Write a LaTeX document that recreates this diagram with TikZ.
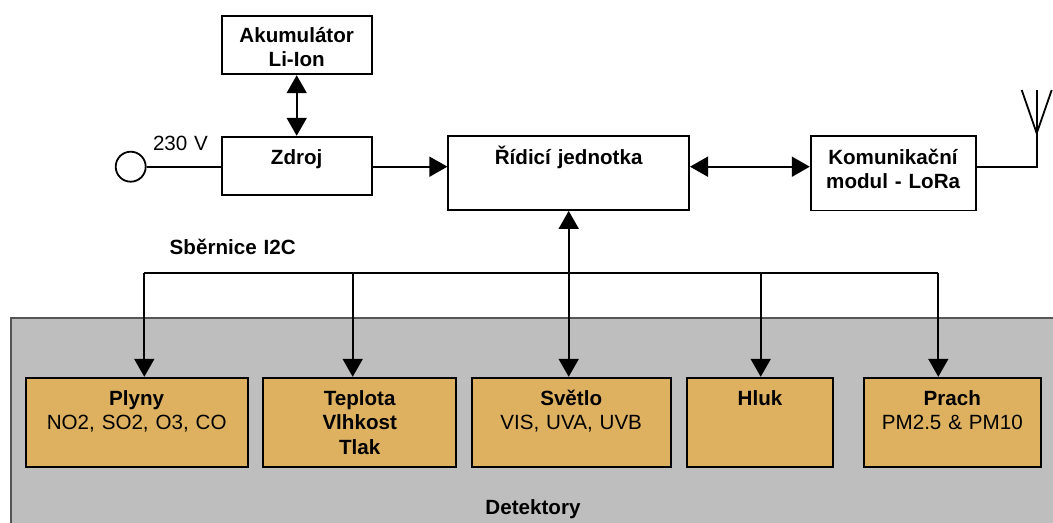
\documentclass[tikz,border=0pt]{standalone}
\usepackage{fontspec}
\setmainfont{Liberation Sans}
\usetikzlibrary{shapes,arrows,arrows.meta,positioning}
\definecolor{detfill}{RGB}{222,177,97}
\definecolor{panelgray}{RGB}{190,190,190}
\definecolor{paneledge}{RGB}{85,85,85}

\begin{document}
\begin{tikzpicture}[x=0.5pt,y=-0.5pt,line width=0.9pt,
    box/.style={draw,rectangle,inner sep=0pt},
    det/.style={box,fill=detfill,minimum height=44.8pt},
    lbl/.style={inner sep=0pt,anchor=base,align=center,text width=110pt,
      font=\fontsize{10.3}{12.3}\selectfont},
    tip/.style={-{Triangle[length=9pt,width=10pt]}},
    tips/.style={{Triangle[length=9pt,width=10pt]}-{Triangle[length=9pt,width=10pt]}}]
        \useasboundingbox (0,0) rectangle (1053,523);
        % detector panel
        \draw[fill=panelgray,draw=paneledge] (10.7,317.7) rectangle (1070,540);
        \node[lbl] (detlbl) at (533,514.1) {\textbf{Detektory}};

        % top row
        \node[box,minimum width=75pt,minimum height=29.3pt] (akum) at (296.7,45) {};
        \node[lbl] (akumT) at (296.7,42.4) {\textbf{Akumulátor}\\ \textbf{Li-Ion}};
        \node[box,minimum width=75pt,minimum height=29.2pt] (zdroj) at (296.7,165.9) {};
        \node[lbl] (zdrojT) at (296.7,164.1) {\textbf{Zdroj}};
        \node[draw,circle,inner sep=0pt,minimum size=15pt] (zasuvka) at (130.7,166.7) {};
        \node[lbl] (napeti) at (180.5,150.1) {230 V};
        \node[box,minimum width=120.4pt,minimum height=37pt] (ridici) at (568.7,173) {};
        \node[lbl] (ridiciT) at (568.7,164.1) {\textbf{Řídicí jednotka}};
        \node[box,minimum width=82.5pt,minimum height=37.3pt] (komunik) at (893.2,173.3) {};
        \node[lbl] (komunikT) at (893.2,164.1) {\textbf{Komunikační}\\ \textbf{modul - LoRa}};

        % antenna
        \coordinate (antpata) at (1036.7,133.3);
        \coordinate (antvrch) at (1036.7,90);
        \coordinate (antl) at (1021.7,90);
        \coordinate (antp) at (1051.7,90);
        \draw (antl) -- (antpata) -- (antp);
        \draw (antvrch) -- (antpata);

        % connections
        \draw[tips] (akum.south) -- (zdroj.north);
        \draw (zasuvka.east) -- (zdroj.west |- zasuvka.east);
        \draw[tip] (zdroj.east |- zasuvka.east) -- (ridici.west |- zasuvka.east);
        \draw[tips] (ridici.east |- zasuvka.east) -- (komunik.west |- zasuvka.east);
        \draw (komunik.east |- zasuvka.east) -| (antpata);

        % detectors
        \node[det,minimum width=111pt] (plyny) at (136.7,422.5) {};
        \node[lbl] (plynyT) at (136.7,405.1) {\textbf{Plyny}\\ NO2, SO2, O3, CO};
        \node[det,minimum width=96.4pt] (teplota) at (359.7,422.5) {};
        \node[lbl] (teplotaT) at (359.7,405.1) {\textbf{Teplota}\\ \textbf{Vlhkost}\\ \textbf{Tlak}};
        \node[det,minimum width=99.5pt] (svetlo) at (571.2,422.5) {};
        \node[lbl] (svetloT) at (571.2,405.1) {\textbf{Světlo}\\ VIS, UVA, UVB};
        \node[det,minimum width=73.3pt] (hluk) at (760,422.5) {};
        \node[lbl] (hlukT) at (760,405.1) {\textbf{Hluk}};
        \node[det,minimum width=88.4pt] (prach) at (952.3,422.5) {};
        \node[lbl] (prachT) at (952.3,405.1) {\textbf{Prach}\\ PM2.5 \& PM10};

        % I2C bus
        \node[lbl] (sbernice) at (232.7,254.1) {\textbf{Sběrnice I2C}};
        \coordinate (b1) at (144.3,272.7);
        \coordinate (b2) at (352.7,272.7);
        \coordinate (b4) at (760.7,272.7);
        \coordinate (b5) at (938.3,272.7);
        \draw (b1) -- (b5);
        \draw[tip] (b1) -- (b1 |- plyny.north);
        \draw[tip] (b2) -- (b2 |- teplota.north);
        \draw[tip] (b4) -- (b4 |- hluk.north);
        \draw[tip] (b5) -- (b5 |- prach.north);
        \draw[tips] (ridici.south) -- (ridici.south |- svetlo.north);
      \end{tikzpicture}
\end{document}
